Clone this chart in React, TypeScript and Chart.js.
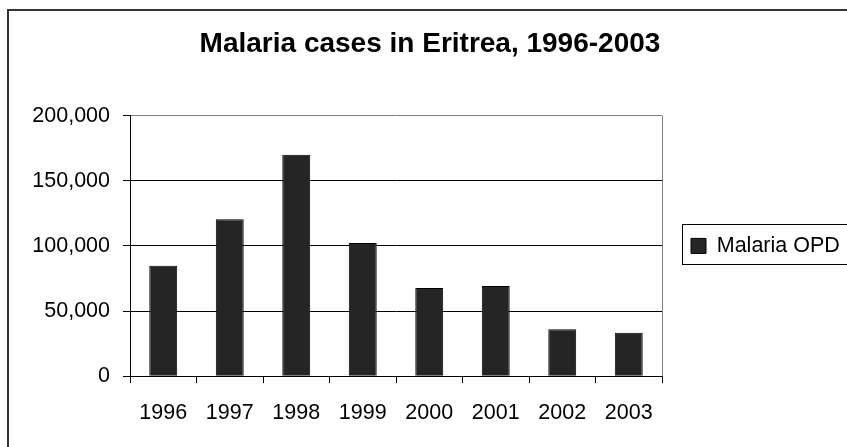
import React, { useEffect, useRef } from "react";
import { Chart, registerables } from "chart.js";

Chart.register(...registerables);

const TITLE = "Malaria cases in Eritrea, 1996-2003";
const SERIES_LABEL = "Malaria OPD";
const categories = ["1996", "1997", "1998", "1999", "2000", "2001", "2002", "2003"];
const malariaOpd = [84800, 120500, 170000, 102300, 67700, 69200, 36100, 33400];
const yTicks = [0, 50000, 100000, 150000, 200000];

const FONT = "'Liberation Sans', Arial, sans-serif";

const decorPlugin = {
  id: "decor",
  beforeDraw(chart: any) {
    const ctx = chart.ctx;
    ctx.save();
    ctx.strokeStyle = "#333333";
    ctx.lineWidth = 2;
    ctx.strokeRect(8, 10, 1000, 800);
    ctx.restore();
  },
  afterDraw(chart: any) {
    const ctx = chart.ctx;
    const a = chart.chartArea;
    ctx.save();
    ctx.strokeStyle = "#808080";
    ctx.lineWidth = 1;
    ctx.beginPath();
    ctx.moveTo(Math.round(a.right) + 0.5, a.top);
    ctx.lineTo(Math.round(a.right) + 0.5, a.bottom);
    ctx.stroke();
    const lg = chart.legend;
    if (lg && lg.legendHitBoxes && lg.legendHitBoxes[0]) {
      const hb = lg.legendHitBoxes[0];
      const cy = hb.top + hb.height / 2;
      ctx.strokeStyle = "#000000";
      ctx.strokeRect(Math.round(hb.left - 9) + 0.5, Math.round(cy - 22) + 0.5, 300, 40);
    }
    ctx.restore();
  },
};

export default function App() {
  const ref = useRef<HTMLCanvasElement | null>(null);
  useEffect(() => {
    if (!ref.current) return;
    const chart = new Chart(ref.current, {
      type: "bar",
      data: {
        labels: categories,
        datasets: [
          {
            label: SERIES_LABEL,
            data: malariaOpd,
            backgroundColor: "#252525",
            borderColor: "#000000",
            borderWidth: 1,
            categoryPercentage: 1,
            barPercentage: 0.42,
          },
        ],
      },
      options: {
        responsive: false,
        animation: false,
        layout: { padding: { left: 13, right: 0, top: 0, bottom: 4 } },
        plugins: {
          title: {
            display: true,
            text: TITLE,
            color: "#000",
            font: { family: FONT, size: 28, weight: "bold" },
            padding: { top: 27, bottom: 55 },
          },
          legend: {
            display: true,
            position: "right",
            fullSize: false,
            maxWidth: 185,
            labels: {
              boxWidth: 15,
              boxHeight: 15,
              padding: 29,
              color: "#000",
              font: { family: FONT, size: 21.5 },
            },
          },
          tooltip: { enabled: false },
        },
        scales: {
          x: {
            grid: {
              offset: true,
              drawOnChartArea: false,
              drawTicks: true,
              tickLength: 7,
              color: "#000",
              tickColor: "#000",
            },
            border: { display: true, color: "#000", width: 1 },
            ticks: {
              color: "#000",
              padding: 17,
              maxRotation: 0,
              font: { family: FONT, size: 21.5 },
            },
          },
          y: {
            min: 0,
            max: 200000,
            afterFit(scale: any) {
              scale.width = 117;
            },
            afterBuildTicks(scale: any) {
              scale.ticks = yTicks.map((v) => ({ value: v }));
            },
            grid: {
              drawTicks: true,
              tickLength: 7,
              color: (c: any) => (c.tick && c.tick.value === 200000 ? "#808080" : "#000"),
              tickColor: "#000",
            },
            border: { display: true, color: "#000", width: 1 },
            ticks: {
              color: "#000",
              padding: 13,
              font: { family: FONT, size: 21.5 },
              callback: (v: any) => Number(v).toLocaleString("en-US"),
            },
          },
        },
      },
      plugins: [decorPlugin],
    } as any);
    return () => chart.destroy();
  }, []);
  return (
    <div style={{ position: "absolute", left: 0, top: 0, width: 847, height: 447, background: "#fff" }}>
      <canvas ref={ref} width={847} height={447} />
    </div>
  );
}
